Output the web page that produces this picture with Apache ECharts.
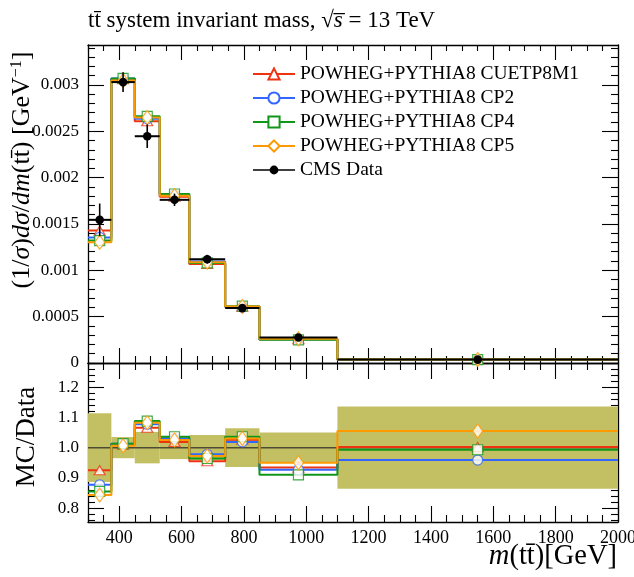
<!DOCTYPE html>
<html><head><meta charset="utf-8">
<script src="https://cdn.jsdelivr.net/npm/echarts@6/dist/echarts.min.js"></script>
<style>html,body{margin:0;padding:0;background:#fff}#c{width:634px;height:577px}</style>
</head><body><div id="c"></div>
<script>
// ---- data ----
const binEdges = [300, 375, 450, 530, 625, 740, 850, 1100, 2000];
const dataValues = [0.001544, 0.00303, 0.002446, 0.00176, 0.001119, 0.000592, 0.000275, 0.0000368];
const dataRelUnc = [0.114, 0.035, 0.052, 0.038, 0.042, 0.064, 0.05, 0.136];
const mcCUETP8M1 = [0.001428, 0.00306, 0.002607, 0.001793, 0.001069, 0.000607, 0.000257, 0.0000369];
const mcCP2 = [0.001354, 0.003069, 0.002634, 0.001813, 0.001094, 0.000603, 0.000255, 0.0000353];
const mcCP4 = [0.00132, 0.003069, 0.002661, 0.001823, 0.001079, 0.000613, 0.00025, 0.0000365];
const mcCP5 = [0.001302, 0.003048, 0.002647, 0.001804, 0.001088, 0.00061, 0.000261, 0.0000388];
const ratioCUETP8M1 = [0.925, 1.01, 1.066, 1.019, 0.955, 1.026, 0.934, 1.002];
const ratioCP2 = [0.877, 1.013, 1.077, 1.03, 0.978, 1.019, 0.927, 0.959];
const ratioCP4 = [0.855, 1.013, 1.088, 1.036, 0.964, 1.036, 0.91, 0.993];
const ratioCP5 = [0.843, 1.006, 1.082, 1.025, 0.972, 1.03, 0.95, 1.055];
const legendNames = ['POWHEG+PYTHIA8 CUETP8M1', 'POWHEG+PYTHIA8 CP2', 'POWHEG+PYTHIA8 CP4', 'POWHEG+PYTHIA8 CP5', 'CMS Data'];
const xTickLabels = [400, 600, 800, 1000, 1200, 1400, 1600, 1800, 2000];
const yTickLabels = [0, 0.0005, 0.001, 0.0015, 0.002, 0.0025, 0.003];
const ratioTickLabels = [0.8, 0.9, 1.0, 1.1, 1.2];

// ---- layout / style ----
const FONT = 'Liberation Serif';
const X_MIN = 300, X_MAX = 2000;
const Y_MIN = 0, Y_MAX = 0.00343;
const R_MIN = 0.754, R_MAX = 1.28;

const models = [
  {name: legendNames[0], color: '#EE3311', symbol: 'triangle', size: [11, 9], main: mcCUETP8M1, ratio: ratioCUETP8M1},
  {name: legendNames[1], color: '#3366FF', symbol: 'circle', size: 10, main: mcCP2, ratio: ratioCP2},
  {name: legendNames[2], color: '#109618', symbol: 'rect', size: 10, main: mcCP4, ratio: ratioCP4},
  {name: legendNames[3], color: '#FF9900', symbol: 'diamond', size: [10, 14], main: mcCP5, ratio: ratioCP5}
];

const centers = binEdges.slice(0, -1).map((e, i) => (e + binEdges[i + 1]) / 2);
const stepData = vals => binEdges.map((e, i) => [e, vals[Math.min(i, vals.length - 1)]]);

// tick positions
const xMajor = xTickLabels.slice();
const xMinor = [];
for (let v = 300; v <= 2000; v += 50) if (v % 200 !== 0) xMinor.push(v);
const yMajor = yTickLabels.slice();
const yMinor = [];
for (let k = 1; k <= 34; k++) if (k % 5 !== 0) yMinor.push(+(k * 0.0001).toFixed(5));
const rMajor = ratioTickLabels.slice();
const rMinor = [];
for (let k = 38; k <= 64; k++) if (k % 5 !== 0) rMinor.push(+(k * 0.02).toFixed(3));

const tickStyle = {color: '#000', width: 1.1};
function axis(kind, grid, pos, min, max, ticks, len, major, labels, labelFmt) {
  return {
    type: 'value', gridIndex: grid, position: pos, min: min, max: max,
    axisLine: {show: major, onZero: false, lineStyle: {color: '#000', width: 1.3}},
    splitLine: {show: false},
    axisTick: {show: true, inside: true, length: len, customValues: ticks, lineStyle: tickStyle},
    minorTick: {show: false},
    axisLabel: labels ? {
      show: true, customValues: labels, fontFamily: FONT, fontSize: kind === 'x' ? 18 : 17, color: '#000',
      margin: kind === 'x' ? 7 : 9, formatter: labelFmt
    } : {show: false},
    silent: true
  };
}

const xAxes = [
  axis('x', 0, 'bottom', X_MIN, X_MAX, xMajor, 15, true, null),
  axis('x', 0, 'bottom', X_MIN, X_MAX, xMinor, 7, false, null),
  axis('x', 0, 'top', X_MIN, X_MAX, xMajor, 15, true, null),
  axis('x', 0, 'top', X_MIN, X_MAX, xMinor, 6, false, null),
  axis('x', 1, 'bottom', X_MIN, X_MAX, xMajor, 16, true, xTickLabels, v => String(v)),
  axis('x', 1, 'bottom', X_MIN, X_MAX, xMinor, 7, false, null),
  axis('x', 1, 'top', X_MIN, X_MAX, xMajor, 16, true, null),
  axis('x', 1, 'top', X_MIN, X_MAX, xMinor, 7, false, null)
];
const yAxes = [
  axis('y', 0, 'left', Y_MIN, Y_MAX, yMajor, 16, true, yTickLabels, v => String(v)),
  axis('y', 0, 'left', Y_MIN, Y_MAX, yMinor, 7, false, null),
  axis('y', 0, 'right', Y_MIN, Y_MAX, yMajor, 16, true, null),
  axis('y', 0, 'right', Y_MIN, Y_MAX, yMinor, 7, false, null),
  axis('y', 1, 'left', R_MIN, R_MAX, rMajor, 16, true, ratioTickLabels, v => (+v).toFixed(1)),
  axis('y', 1, 'left', R_MIN, R_MAX, rMinor, 7, false, null),
  axis('y', 1, 'right', R_MIN, R_MAX, rMajor, 16, true, null),
  axis('y', 1, 'right', R_MIN, R_MAX, rMinor, 7, false, null)
];

const series = [];
// ratio band (data uncertainty)
series.push({
  type: 'custom', name: 'Data uncertainty', xAxisIndex: 4, yAxisIndex: 4, z: 1, silent: true,
  data: binEdges.slice(0, -1).map((lo, i) => [lo, binEdges[i + 1], dataRelUnc[i]]),
  encode: {x: [0, 1], y: 2},
  renderItem: (params, api) => {
    const p1 = api.coord([api.value(0), 1 + api.value(2)]);
    const p2 = api.coord([api.value(1), 1 - api.value(2)]);
    return {type: 'rect', shape: {x: p1[0], y: p1[1], width: p2[0] - p1[0], height: p2[1] - p1[1]},
      style: {fill: '#c3c064'}};
  }
});
series.push({
  type: 'line', name: 'Data ratio', xAxisIndex: 4, yAxisIndex: 4, z: 2, silent: true,
  data: [[X_MIN, 1], [X_MAX, 1]], symbol: 'none',
  lineStyle: {color: '#4d4b33', width: 1.5}
});

models.forEach((m, k) => {
  series.push({
    type: 'line', name: m.name, xAxisIndex: 0, yAxisIndex: 0, step: 'end', z: 3 + k * 0.01,
    data: stepData(m.main), showSymbol: false, symbol: m.symbol, symbolSize: 10,
    lineStyle: {color: m.color, width: 2}, itemStyle: {color: '#fff', borderColor: m.color, borderWidth: 1.3},
    silent: true
  });
  series.push({
    type: 'line', name: m.name + ' ratio', xAxisIndex: 4, yAxisIndex: 4, step: 'end', z: 3 + k * 0.01,
    data: stepData(m.ratio), showSymbol: false, symbol: 'none',
    lineStyle: {color: m.color, width: 2}, silent: true
  });
});
models.forEach((m, k) => {
  series.push({
    type: 'scatter', name: m.name + ' markers', xAxisIndex: 0, yAxisIndex: 0, z: 4 + k * 0.01,
    data: centers.map((c, i) => [c, m.main[i]]), symbol: m.symbol, symbolSize: m.size,
    itemStyle: {color: '#fff', borderColor: m.color, borderWidth: 1.2}, silent: true
  });
  series.push({
    type: 'scatter', name: m.name + ' ratio markers', xAxisIndex: 4, yAxisIndex: 4, z: 4 + k * 0.01,
    data: centers.map((c, i) => [c, m.ratio[i]]), symbol: m.symbol, symbolSize: m.size,
    itemStyle: {color: '#fff', borderColor: m.color, borderWidth: 1.2}, silent: true
  });
});
// data points with error bars
series.push({
  type: 'custom', name: 'CMS Data', xAxisIndex: 0, yAxisIndex: 0, z: 6, silent: true,
  itemStyle: {color: '#000'},
  data: binEdges.slice(0, -1).map((lo, i) => [lo, binEdges[i + 1], dataValues[i], dataRelUnc[i]]),
  encode: {x: [0, 1], y: 2},
  renderItem: (params, api) => {
    const lo = api.value(0), hi = api.value(1), v = api.value(2), r = api.value(3);
    const c = (lo + hi) / 2;
    const pL = api.coord([lo, v]), pR = api.coord([hi, v]), pC = api.coord([c, v]);
    const pT = api.coord([c, v * (1 + r)]), pB = api.coord([c, v * (1 - r)]);
    return {type: 'group', children: [
      {type: 'line', shape: {x1: pL[0], y1: pL[1], x2: pR[0], y2: pR[1]}, style: {stroke: '#000', lineWidth: 2}},
      {type: 'line', shape: {x1: pT[0], y1: pT[1], x2: pB[0], y2: pB[1]}, style: {stroke: '#000', lineWidth: 1.6}},
      {type: 'circle', shape: {cx: pC[0], cy: pC[1], r: 4.3}, style: {fill: '#000'}}
    ]};
  }
});

const option = {
  animation: false,
  backgroundColor: '#fff',
  grid: [
    {left: 88, right: 16, top: 45, height: 318, outerBoundsMode: 'none', containLabel: false},
    {left: 88, right: 16, top: 363, height: 159, outerBoundsMode: 'none', containLabel: false}
  ],
  xAxis: xAxes,
  yAxis: yAxes,
  legend: {
    orient: 'vertical', left: 247, top: 59, itemWidth: 42, itemHeight: 14, itemGap: 4,
    selectedMode: false, symbolKeepAspect: true,
    textStyle: {fontFamily: FONT, fontSize: 19.5, color: '#000', lineHeight: 20, padding: [0, 0, 0, 0]},
    data: [
      {name: legendNames[0]}, {name: legendNames[1]}, {name: legendNames[2]}, {name: legendNames[3]},
      {name: legendNames[4], icon: 'path://M0,3.6h42v1.6h-42z M21,0a4.4,4.4 0 1 1 0,8.8a4.4,4.4 0 1 1 0,-8.8z',
        itemStyle: {color: '#000'}}
    ]
  },
  graphic: [
    {type: 'text', x: 88, y: 21, silent: true, style: {
      text: 'tt\u0304 system invariant mass, {m|\u221A}{i|s\u0305} = 13 TeV',
      fontFamily: FONT, fontSize: 23, fill: '#000', align: 'left', verticalAlign: 'middle',
      rich: {i: {fontStyle: 'italic', fontFamily: FONT, fontSize: 23}, m: {fontFamily: FONT, fontSize: 23}}
    }},
    {type: 'text', x: 22, y: 170, rotation: Math.PI / 2, silent: true, style: {
      text: '(1/{i|\u03C3}){i|d\u03C3}/{i|dm}(tt\u0304) [GeV{s|\u22121}]',
      fontFamily: FONT, fontSize: 26, fill: '#000', align: 'center', verticalAlign: 'middle',
      rich: {i: {fontStyle: 'italic', fontFamily: FONT, fontSize: 26}, s: {fontFamily: FONT, fontSize: 16, verticalAlign: 'top'}}
    }},
    {type: 'text', x: 27, y: 437, rotation: Math.PI / 2, silent: true, style: {
      text: 'MC/Data', fontFamily: FONT, fontSize: 27, fill: '#000', align: 'center', verticalAlign: 'middle'
    }},
    {type: 'text', x: 617, y: 557, silent: true, style: {
      text: '{i|m}(tt\u0304)[GeV]', fontFamily: FONT, fontSize: 28.5, fill: '#000', align: 'right', verticalAlign: 'middle',
      rich: {i: {fontStyle: 'italic', fontFamily: FONT, fontSize: 28.5}}
    }}
  ],
  series: series
};

const chart = echarts.init(document.getElementById('c'), null, {renderer: 'canvas'});
chart.setOption(option);
</script></body></html>
